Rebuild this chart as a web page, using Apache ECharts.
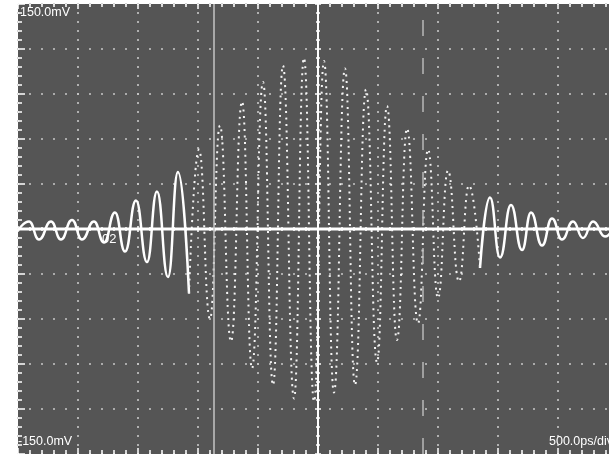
<!DOCTYPE html>
<html><head><meta charset="utf-8">
<script src="https://cdn.jsdelivr.net/npm/echarts@6/dist/echarts.min.js"></script>
<style>html,body{margin:0;padding:0;background:#fff;}#c{width:609px;height:454px;}</style>
</head><body><div id="c"></div>
<script>
// Waveform extrema (time in ps from trigger, voltage in mV)
const timesPs = [-2500,-2408,-2325,-2225,-2142,-2050,-1967,-1867,-1783,-1692,-1608,-1517,-1425,-1342,-1250,-1167,-1075,-992,-900,-817,-725,-633,-550,-458,-375,-292,-200,-117,-33,50,133,225,308,400,492,575,658,742,833,917,1000,1083,1175,1258,1350,1433,1517,1608,1700,1775,1867,1950,2033,2125,2208,2292,2392,2450];
const valuesMv = [-1,5,-7,5,-7,6,-7,5,-9,11,-15,19,-22,25,-32,38,-43,53,-60,69,-75,85,-93,98,-104,109,-113,114,-115,112,-109,107,-104,93,-89,82,-74,67,-63,53,-46,39,-35,29,-26,21,-19,16,-14,11,-11,7,-7,5,-6,5,-5,-1];
// Flat reference trace
const refTimesPs = [-2500, 2500];
const refValuesMv = [0, 0];
// Cursors and trigger position (ps)
const solidCursorPs = [-867];
const dashedCursorPs = [875];
const triggerPs = [0];
// Axis ranges
const timeRange = [-2500, 2500, 500];
const voltRange = [-150, 150, 30];
// Screen readouts
const topLabel = '150.0mV';
const bottomLabel = '-150.0mV';
const scaleLabel = '500.0ps/div';
const chLabel = '02';
// where the trace becomes sparse (dotted) on screen
const sparseFrom = -1075, sparseTo = 1350;

const pairs = timesPs.map((t, i) => [t, valuesMv[i]]);
const solidData = pairs.map(p => (p[0] <= sparseFrom || p[0] >= sparseTo) ? p : [p[0], null]);
const dotData = pairs.map(p => (p[0] >= sparseFrom && p[0] <= sparseTo) ? p : [p[0], null]);

const W = '#ffffff';
const tickStyle = {color: W, width: 1.5};
function xAx(pos, off, len, split, line) {
  return {
    type: 'value', min: timeRange[0], max: timeRange[1], interval: timeRange[2],
    position: pos, offset: off,
    axisLine: {show: !!line, onZero: false, lineStyle: line || {}},
    axisTick: {show: true, inside: true, length: len, lineStyle: tickStyle},
    minorTick: {show: true, splitNumber: 5, length: Math.max(2, len - 2), lineStyle: tickStyle},
    splitLine: {show: split, lineStyle: {color: '#c8c8c8', width: 1.6, type: [2, 7], dashOffset: 1}},
    axisLabel: {show: false}
  };
}
function yAx(pos, off, len, split, line) {
  return {
    type: 'value', min: voltRange[0], max: voltRange[1], interval: voltRange[2],
    position: pos, offset: off,
    axisLine: {show: !!line, onZero: false, lineStyle: line || {}},
    axisTick: {show: true, inside: true, length: len, lineStyle: tickStyle},
    minorTick: {show: true, splitNumber: 5, length: Math.max(2, len - 3), lineStyle: tickStyle},
    splitLine: {show: split, lineStyle: {color: '#c8c8c8', width: 1.6, type: [2, 10], dashOffset: 1}},
    axisLabel: {show: false}
  };
}
const FONT = '12.5px "Liberation Sans", Arial, sans-serif';

const chart = echarts.init(document.getElementById('c'), null, {renderer: 'canvas'});
chart.setOption({
  animation: false,
  backgroundColor: '#ffffff',
  grid: {left: 18, top: 4, width: 600, height: 450, show: true, backgroundColor: '#555555', borderWidth: 0, containLabel: false, outerBoundsMode: 'none'},
  xAxis: [
    xAx('bottom', 0, 6, true),
    xAx('top', 0, 5, false),
    xAx('top', -225, 3, false),
    xAx('bottom', -225, 3, false)
  ],
  yAxis: [
    yAx('left', 0, 7, true),
    yAx('left', -300, 3, false, {color: W, width: 2}),
    yAx('right', -300, 3, false)
  ],
  series: [
    {type: 'line', data: solidData, smooth: 0.5, smoothMonotone: 'x', showSymbol: false, connectNulls: false,
     lineStyle: {color: W, width: 2.5}, z: 3, silent: true,
     markLine: {silent: true, symbol: 'none', label: {show: false},
       data: [
         {xAxis: solidCursorPs[0], lineStyle: {color: '#c4c4c4', width: 1.5, type: 'solid'}},
         {xAxis: dashedCursorPs[0], lineStyle: {color: '#b8b8b8', width: 1.5, type: [16, 22]}},
         {xAxis: triggerPs[0], lineStyle: {color: W, width: 2, type: 'solid'}}
       ]}},
    {type: 'line', data: dotData, smooth: 0.5, smoothMonotone: 'x', showSymbol: false, connectNulls: false,
     lineStyle: {color: '#f4f4f4', width: 2, type: [2, 4.5]}, z: 3, silent: true},
    {type: 'line', data: refTimesPs.map((t, i) => [t, refValuesMv[i]]), showSymbol: false,
     lineStyle: {color: W, width: 3}, z: 4, silent: true}
  ],
  graphic: [
    {type: 'text', left: 20, top: 6, z: 10, style: {text: topLabel, fill: W, font: FONT}},
    {type: 'text', left: 18, top: 435, z: 10, style: {text: bottomLabel, fill: W, font: FONT}},
    {type: 'text', left: 549, top: 435, z: 10, style: {text: scaleLabel, fill: W, font: FONT}},
    {type: 'text', left: 102, top: 233, z: 10, style: {text: chLabel, fill: W, font: '13px "Liberation Sans", Arial, sans-serif'}}
  ]
});
</script></body></html>
